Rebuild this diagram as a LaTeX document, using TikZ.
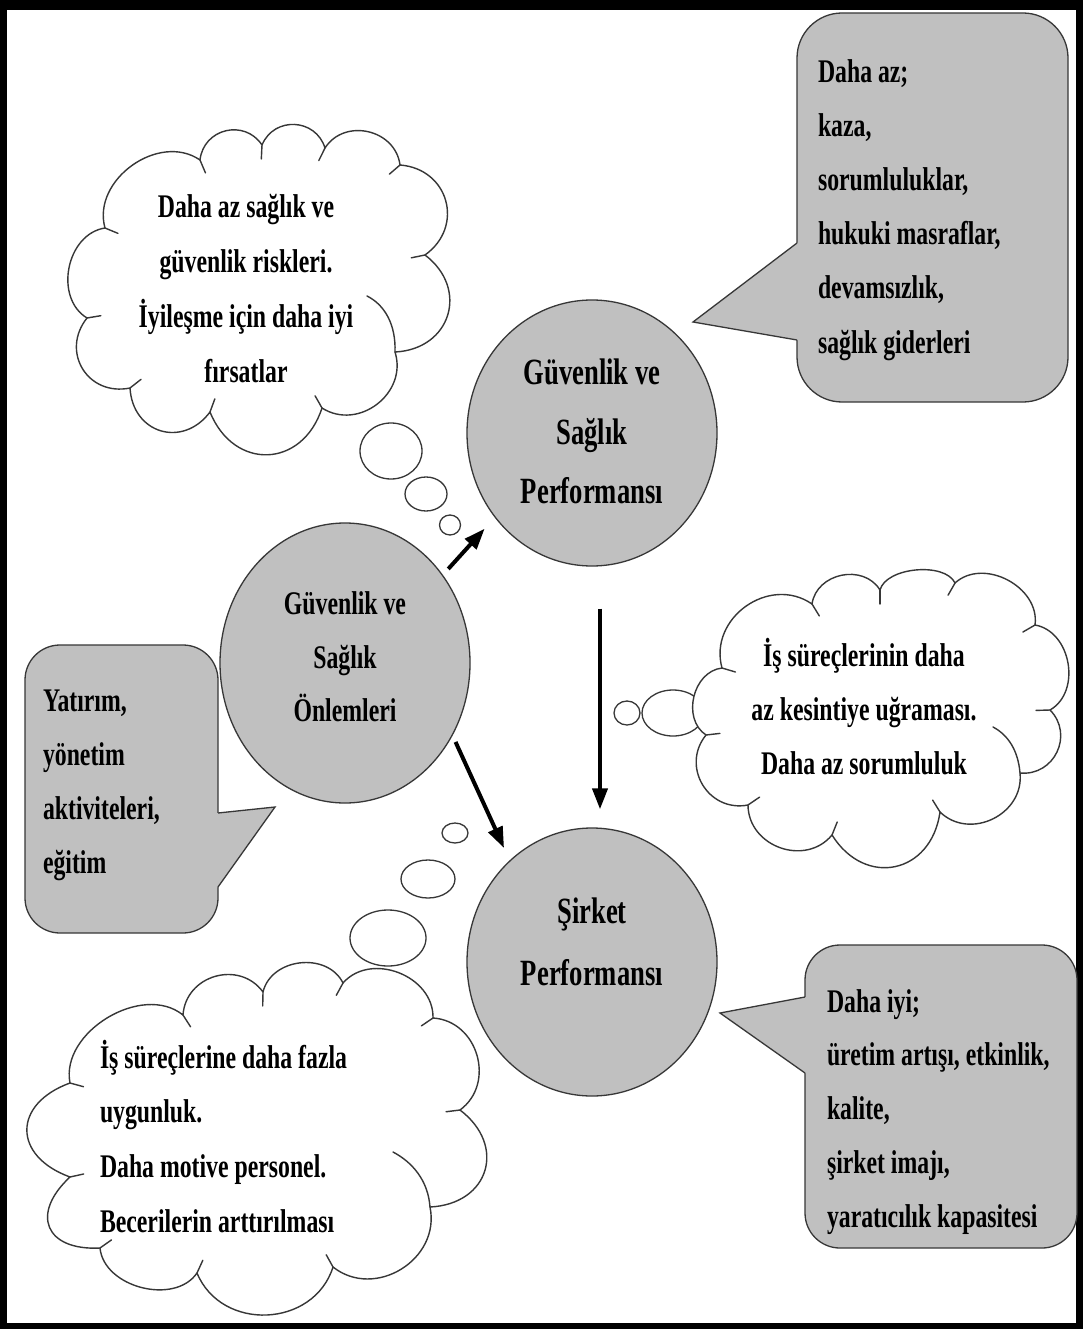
\documentclass[tikz,border=0pt]{standalone}
\usepackage{fontspec}
\newfontfamily\labelfont[FakeStretch=0.72]{Liberation Serif}
\usetikzlibrary{arrows.meta,shapes.geometric,calc}

\definecolor{panelgray}{RGB}{192,192,192}
\definecolor{edgegray}{RGB}{55,55,55}

\begin{document}
\begin{tikzpicture}[x=1pt,y=-1pt,
  txt/.style 2 args={font=\labelfont\bfseries\fontsize{#1}{#2}\selectfont, inner sep=0pt, outer sep=0pt},
  disc/.style={ellipse, draw=edgegray, fill=panelgray, line width=1.3pt, inner sep=0pt},
  bubble/.style={ellipse, draw=edgegray, fill=white, line width=1.3pt, inner sep=0pt},
  panel/.style={rectangle, draw=edgegray, fill=panelgray, line width=1.3pt, inner sep=0pt, outer sep=0pt},
  tipfill/.style={fill=panelgray},
  tipedge/.style={draw=edgegray, line width=1.3pt, line join=miter},
  cloudline/.style={draw=edgegray, fill=white, line width=1.4pt, line join=round},
  crease/.style={draw=edgegray, line width=1.4pt, line cap=round},
  pf/.style={bend left=70, looseness=#1},
  arrow/.style={line width=4pt, -{Triangle[length=21pt,width=15pt]}}]

\useasboundingbox (0,0) rectangle (1083,1329);
% frame
\fill[black] (0,0) rectangle (1083,1329);
\fill[white] (7,10) rectangle (1076,1323);

% ---------- speech boxes ----------
\node[panel, rounded corners=45pt, minimum width=271pt, minimum height=389pt] (kbox) at (932.5,207.5) {};
\coordinate (ktip) at (693,322);
\fill[tipfill] (797,243) -- (ktip) -- (797,340) -- (800,340) -- (800,243) -- cycle;
\draw[tipedge] (797,243) -- (ktip) -- (797,340);

\node[panel, rounded corners=35pt, minimum width=193pt, minimum height=288pt] (ybox) at (121.5,789) {};
\coordinate (ytip) at (275,807);
\fill[tipfill] (218,813) -- (ytip) -- (218,887) -- (215,887) -- (215,813) -- cycle;
\draw[tipedge] (218,813) -- (ytip) -- (218,887);

\node[panel, rounded corners=35pt, minimum width=272pt, minimum height=303pt] (dbox) at (941,1096.5) {};
\coordinate (dtip) at (720,1013);
\fill[tipfill] (805,997) -- (dtip) -- (805,1073) -- (808,1073) -- (808,997) -- cycle;
\draw[tipedge] (805,997) -- (dtip) -- (805,1073);

\node[txt={33}{54.2}, anchor=north west, align=left] (kayip) at (818,44.1)
  {\strut Daha az;\\kaza,\\sorumluluklar,\\hukuki masraflar,\\devamsızlık,\\sağlık giderleri};
\node[txt={33}{53.7}, anchor=north west, align=left] (yatirim) at (43,674.4)
  {\strut Yatırım,\\yönetim\\aktiviteleri,\\eğitim};
\node[txt={33}{53.75}, anchor=north west, align=left] (kazanc) at (827,974.4)
  {\strut Daha iyi;\\üretim artışı, etkinlik,\\kalite,\\şirket imajı,\\yaratıcılık kapasitesi};

% ---------- thought bubbles ----------
\node[bubble, minimum width=62pt, minimum height=56pt] (b1a) at (391,451) {};
\node[bubble, minimum width=42pt, minimum height=34pt] (b1b) at (426,494) {};
\node[bubble, minimum width=21pt, minimum height=20pt] (b1c) at (450,525) {};

\node[bubble, minimum width=62pt, minimum height=46pt] (b2a) at (673,713) {};
\node[bubble, minimum width=26pt, minimum height=24pt] (b2b) at (627,713) {};

\node[bubble, minimum width=76pt, minimum height=56pt] (b3a) at (388,938) {};
\node[bubble, minimum width=54pt, minimum height=38pt] (b3b) at (428,879) {};
\node[bubble, minimum width=26pt, minimum height=20pt] (b3c) at (455,833) {};

% ---------- cloud 1 (upper left) ----------
\coordinate (cc1) at (255,290);
\coordinate (c1a) at (105,228);
\coordinate (c1b) at (200,160);
\coordinate (c1c) at (262,145);
\coordinate (c1d) at (325,148);
\coordinate (c1e) at (400,165);
\coordinate (c1f) at (425,255);
\coordinate (c1g) at (395,352);
\coordinate (c1h) at (322,408);
\coordinate (c1i) at (210,412);
\coordinate (c1j) at (130,388);
\coordinate (c1k) at (87,318);
\path[cloudline] (c1a) to[pf=1.09] (c1b) to[pf=1.27] (c1c) to[pf=1.27] (c1d)
  to[pf=1.2] (c1e) to[pf=1.34] (c1f) to[pf=1.41] (c1g) to[pf=1.2] (c1h)
  to[pf=1.45] (c1i) to[pf=1.4] (c1j) to[pf=1.34] (c1k) to[pf=1.09] (c1a) -- cycle;
\foreach \p in {c1a,c1b,c1c,c1d,c1e,c1f,c1h,c1i,c1j,c1k}
  \draw[crease] (\p) -- ($(\p)!14pt!(cc1)$);
\draw[crease] (c1g) .. controls (396,325) and (385,305) .. (367,296);

% ---------- cloud 2 (right) ----------
\coordinate (cc2) at (880,715);
\coordinate (c2a) at (722,668);
\coordinate (c2b) at (812,604);
\coordinate (c2c) at (880,590);
\coordinate (c2d) at (955,583);
\coordinate (c2e) at (1035,625);
\coordinate (c2f) at (1050,710);
\coordinate (c2g) at (1020,773);
\coordinate (c2h) at (940,812);
\coordinate (c2i) at (832,835);
\coordinate (c2j) at (748,805);
\coordinate (c2k) at (706,735);
\path[cloudline] (c2a) to[pf=1.2] (c2b) to[pf=1.16] (c2c) to[pf=0.8] (c2d)
  to[pf=1.09] (c2e) to[pf=1.09] (c2f) to[pf=1.27] (c2g) to[pf=1.2] (c2h)
  to[pf=1.45] (c2i) to[pf=1.2] (c2j) to[pf=1.27] (c2k) to[pf=1.09] (c2a) -- cycle;
\foreach \p in {c2a,c2b,c2c,c2d,c2e,c2f,c2h,c2i,c2j,c2k}
  \draw[crease] (\p) -- ($(\p)!14pt!(cc2)$);
\draw[crease] (c2g) .. controls (1018,750) and (1008,735) .. (993,727);

% ---------- cloud 3 (lower left) ----------
\coordinate (cc3) at (260,1135);
\coordinate (c3a) at (70,1083);
\coordinate (c3b) at (183,1015);
\coordinate (c3c) at (263,992);
\coordinate (c3d) at (343,983);
\coordinate (c3e) at (433,1018);
\coordinate (c3f) at (460,1110);
\coordinate (c3g) at (430,1207);
\coordinate (c3h) at (333,1267);
\coordinate (c3i) at (197,1273);
\coordinate (c3j) at (100,1248);
\coordinate (c3k) at (70,1177);
\path[cloudline] (c3a) to[pf=1.01] (c3b) to[pf=1.23] (c3c) to[pf=1.12] (c3d)
  to[pf=1.12] (c3e) to[pf=1.2] (c3f) to[pf=1.49] (c3g) to[pf=1.2] (c3h)
  to[pf=1.2] (c3i) to[pf=1.01] (c3j) to[pf=1.81] (c3k) to[pf=1.67] (c3a) -- cycle;
\foreach \p in {c3a,c3b,c3c,c3d,c3e,c3f,c3h,c3i,c3j,c3k}
  \draw[crease] (\p) -- ($(\p)!14pt!(cc3)$);
\draw[crease] (c3g) .. controls (428,1180) and (412,1162) .. (393,1152);

\node[txt={33}{54.7}, anchor=north, align=center] (risk) at (246,179.7)
  {\strut Daha az sağlık ve\\güvenlik riskleri.\\İyileşme için daha iyi\\fırsatlar};
\node[txt={33}{53.7}, anchor=north, align=center] (surec) at (864,629.4)
  {\strut İş süreçlerinin daha\\az kesintiye uğraması.\\Daha az sorumluluk};
\node[txt={33}{54.7}, anchor=north west, align=left] (uyum) at (100,1029.7)
  {\strut İş süreçlerine daha fazla\\uygunluk.\\Daha motive personel.\\Becerilerin arttırılması};

% ---------- main circles ----------
\node[disc, minimum width=250pt, minimum height=280pt] (onlem) at (345,663) {};
\node[disc, minimum width=250pt, minimum height=266pt] (guvp) at (592,433) {};
\node[disc, minimum width=250pt, minimum height=268pt] (sirket) at (592,962) {};

\node[txt={33}{53.5}, anchor=north, align=center] (onlemtxt) at (345,577.5)
  {\strut Güvenlik ve\\Sağlık\\Önlemleri};
\node[txt={37}{59.5}, anchor=north, align=center] (guvptxt) at (592,343.3)
  {\strut Güvenlik ve\\Sağlık\\Performansı};
\node[txt={37}{62}, anchor=north, align=center] (sirkettxt) at (592,879.6)
  {\strut Şirket\\Performansı};

% ---------- arrows ----------
\draw[arrow, shorten <=8pt, shorten >=15pt] (onlem.42) -- (guvp.-139);
\draw[arrow, shorten <=7pt, shorten >=13.5pt] (onlem.-34) -- (sirket.129);
\draw[arrow, shorten <=42pt, shorten >=18pt] ([xshift=8pt]guvp.south) -- ([xshift=8pt]sirket.north);

\end{tikzpicture}
\end{document}
